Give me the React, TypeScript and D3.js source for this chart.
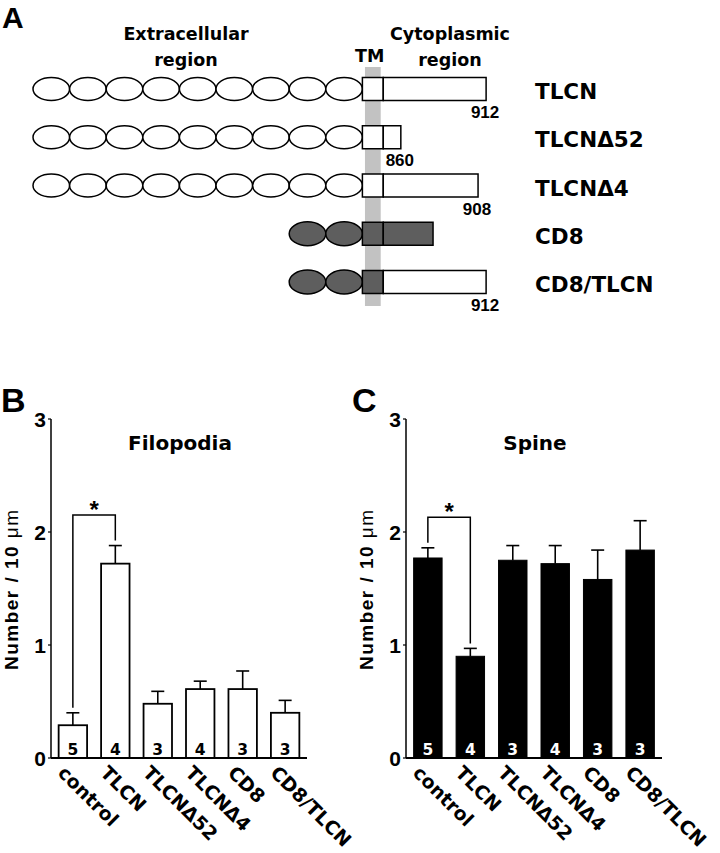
import React from 'react'
import * as d3 from 'd3'

// panel A: domain schematic
const constructs = ['TLCN', 'TLCNΔ52', 'TLCNΔ4', 'CD8', 'CD8/TLCN']
const ectoDomains = [9, 9, 9, 2, 2]
const cytoLength = [2.81, 0.48, 2.59, 1.36, 2.81] // in domain units, measured from TM
const cytoEnd = ['912', '860', '908', '', '912']
const cd8Ecto = [false, false, false, true, true]
const cd8Cyto = [false, false, false, true, false]

// panels B, C
const categories = ['control', 'TLCN', 'TLCNΔ52', 'TLCNΔ4', 'CD8', 'CD8/TLCN']
const nCells = ['5', '4', '3', '4', '3', '3']
const filopodiaMean = [0.29, 1.72, 0.48, 0.61, 0.61, 0.40]
const filopodiaErr = [0.11, 0.16, 0.11, 0.07, 0.16, 0.11]
const spineMean = [1.77, 0.90, 1.75, 1.72, 1.58, 1.84]
const spineErr = [0.09, 0.07, 0.13, 0.16, 0.26, 0.26]
const yTicks = [0, 1, 2, 3]

const SANS = '"DejaVu Sans", sans-serif'
const ARIAL = '"Liberation Sans", Arial, sans-serif'
const GRAY = '#5e5e5e'

function Schematic() {
  const xA = d3.scaleLinear().domain([0, 13]).range([33, 33 + 13 * 36.6])
  const yA = d3.scalePoint().domain(constructs).range([89, 282])
  const unit = xA(1) - xA(0)
  const tm0 = 9, tm1 = 9.57
  const h = 23

  return (
    <g>
      <text x={2} y={28} fontFamily={ARIAL} fontWeight="bold" fontSize={30}>A</text>
      <text x={186} y={40} textAnchor="middle" fontFamily={SANS} fontWeight="bold" fontSize={17.5}>Extracellular</text>
      <text x={186} y={66} textAnchor="middle" fontFamily={SANS} fontWeight="bold" fontSize={17.5}>region</text>
      <text x={450} y={40} textAnchor="middle" fontFamily={SANS} fontWeight="bold" fontSize={17.5}>Cytoplasmic</text>
      <text x={450} y={66} textAnchor="middle" fontFamily={SANS} fontWeight="bold" fontSize={17.5}>region</text>
      <text x={xA(9.2)} y={62} textAnchor="middle" fontFamily={SANS} fontWeight="bold" fontSize={17.5}>TM</text>

      <rect x={xA(9.07)} y={67} width={xA(9.5) - xA(9.07)} height={239} fill="#c2c2c2" />

      {constructs.map((c, i) => {
        const cy = yA(c)!
        const n = ectoDomains[i]
        const fill = cd8Ecto[i] ? GRAY : '#fff'
        return (
          <g key={c}>
            {d3.range(n).map(k => (
              <ellipse key={k} cx={xA(tm0 - n + k + 0.5)} cy={cy} rx={unit / 2} ry={cd8Ecto[i] ? 12 : 11.5}
                fill={fill} stroke="#000" strokeWidth={1.5} />
            ))}
            <rect x={xA(tm0)} y={cy - h / 2} width={xA(tm1) - xA(tm0)} height={h}
              fill={fill} stroke="#000" strokeWidth={1.5} />
            <rect x={xA(tm1)} y={cy - h / 2} width={xA(tm1 + cytoLength[i]) - xA(tm1)} height={h}
              fill={cd8Cyto[i] ? GRAY : '#fff'} stroke="#000" strokeWidth={1.5} />
            {cytoEnd[i] && (
              <text x={xA(tm1 + cytoLength[i]) - 1} y={cy + 29} textAnchor="middle"
                fontFamily={ARIAL} fontWeight="bold" fontSize={17}>{cytoEnd[i]}</text>
            )}
            <text x={535} y={cy + 10} fontFamily={SANS} fontWeight="bold" fontSize={21.5}>{c}</text>
          </g>
        )
      })}
    </g>
  )
}

function BarPanel({ dx, letter, title, means, errs, dark, bracket }: any) {
  const x0 = 51 + dx
  const x = d3.scaleBand().domain(categories).range([x0, x0 + 256]).paddingInner(0.33).paddingOuter(0.18)
  const y = d3.scaleLinear().domain([0, 3]).range([758, 419])
  const cx = (c: string) => x(c)! + x.bandwidth() / 2
  const cap = 6.5

  const c0 = categories[0], c1 = categories[1]
  const by = y(bracket)
  const bracketPath = `M${cx(c0)},${y(means[0] + errs[0]) - 5}V${by}H${cx(c1)}V${y(means[1] + errs[1]) - 5}`

  return (
    <g>
      <text x={dx > 0 ? dx - 3 : 1} y={412} fontFamily={ARIAL} fontWeight="bold" fontSize={34}>{letter}</text>
      <text x={x0 + 129} y={450} textAnchor="middle" fontFamily={SANS} fontWeight="bold" fontSize={20}>{title}</text>

      <text transform={`translate(${dx + 18},590) rotate(-90)`} textAnchor="middle"
        fontFamily={ARIAL} fontWeight="bold" fontSize={19} textLength={160}>
        Number / 10 <tspan fontWeight="normal">μm</tspan>
      </text>

      {yTicks.map(t => (
        <g key={t}>
          <line x1={x0 - 3} x2={x0} y1={y(t)} y2={y(t)} stroke="#000" strokeWidth={1.2} />
          <text x={x0 - 5} y={y(t) + 7.5} textAnchor="end" fontFamily={ARIAL} fontWeight="bold" fontSize={21}>{t}</text>
        </g>
      ))}

      {categories.map((c, i) => (
        <g key={c}>
          <line x1={cx(c)} x2={cx(c)} y1={y(means[i])} y2={y(means[i] + errs[i])} stroke="#000" strokeWidth={1.6} />
          <line x1={cx(c) - cap} x2={cx(c) + cap} y1={y(means[i] + errs[i])} y2={y(means[i] + errs[i])} stroke="#000" strokeWidth={1.6} />
          <rect x={x(c)} y={y(means[i])} width={x.bandwidth()} height={y(0) - y(means[i])}
            fill={dark ? '#000' : '#fff'} stroke="#000" strokeWidth={dark ? 1 : 1.8} />
          <text x={cx(c)} y={y(0) - 3} textAnchor="middle" fontFamily={SANS} fontWeight="bold" fontSize={15.5}
            fill={dark ? '#fff' : '#000'}>{nCells[i]}</text>
          <text transform={`translate(${cx(c) - 16},774) rotate(45)`} fontFamily={SANS} fontWeight="bold" fontSize={19}>{c}</text>
        </g>
      ))}

      <line x1={x0} x2={x0} y1={y(0)} y2={y(3)} stroke="#000" strokeWidth={1.5} />
      <line x1={x0} x2={x0 + 256} y1={y(0)} y2={y(0)} stroke="#000" strokeWidth={1.8} />

      <path d={bracketPath} fill="none" stroke="#000" strokeWidth={1.5} />
      <text x={(cx(c0) + cx(c1)) / 2} y={by + 3} textAnchor="middle" fontFamily={ARIAL} fontWeight="bold" fontSize={24}>*</text>
    </g>
  )
}

export default function App() {
  return (
    <svg width={720} height={853} style={{ position: 'absolute', left: 0, top: 0, background: '#fff' }}>
      <rect width={720} height={853} fill="#fff" />
      <Schematic />
      <BarPanel dx={0} letter="B" title="Filopodia" means={filopodiaMean} errs={filopodiaErr} dark={false} bracket={2.15} />
      <BarPanel dx={355} letter="C" title="Spine" means={spineMean} errs={spineErr} dark={true} bracket={2.13} />
    </svg>
  )
}
